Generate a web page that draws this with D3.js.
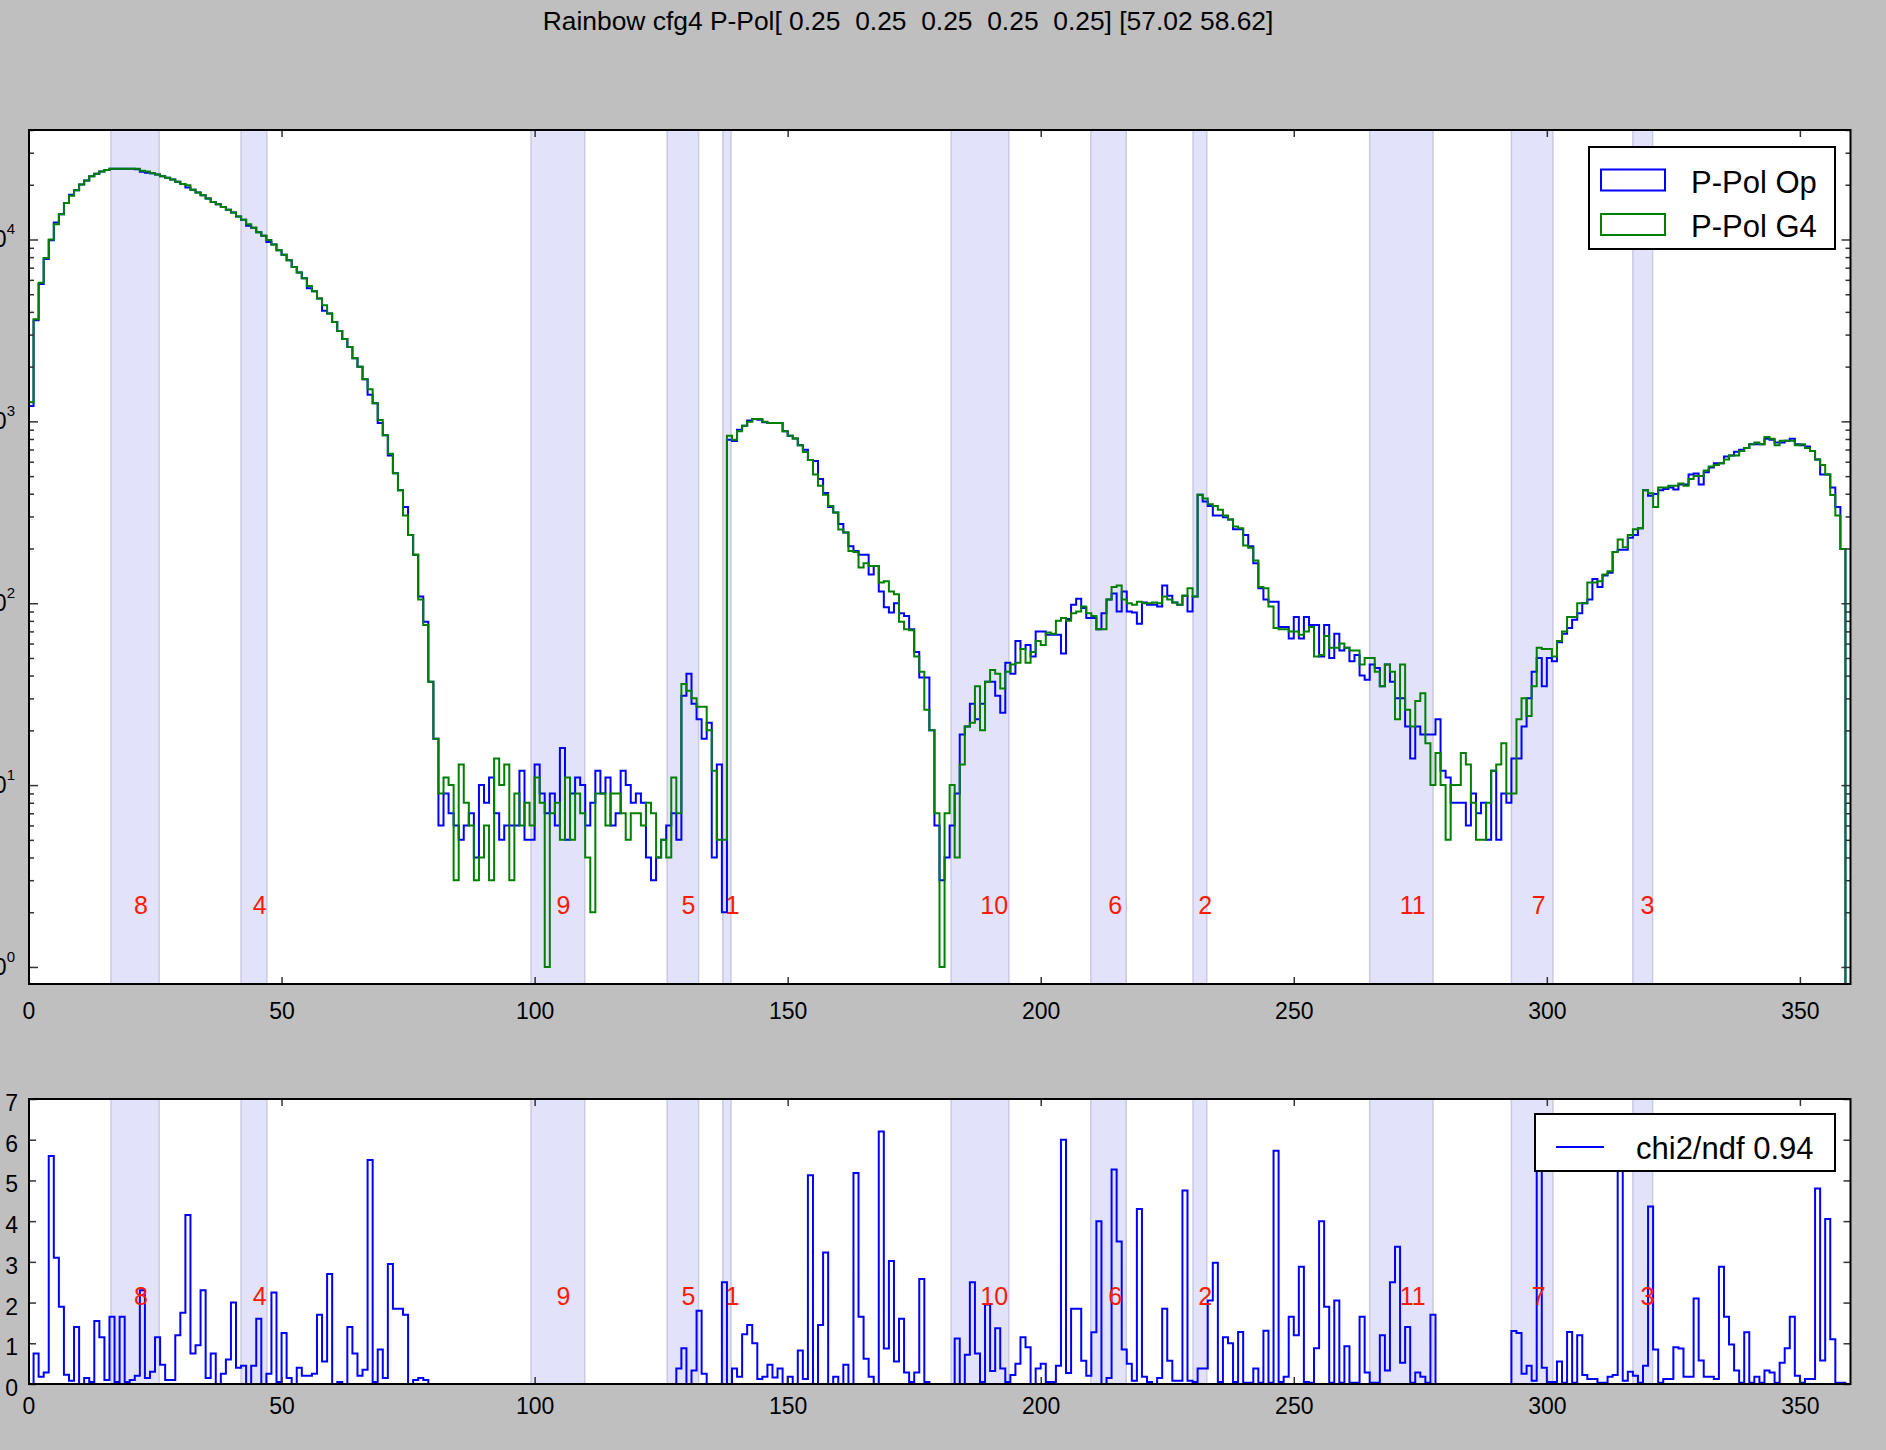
<!DOCTYPE html>
<html>
<head>
<meta charset="utf-8">
<script src="https://cdn.jsdelivr.net/npm/d3@7"></script>
<style>
  body { margin: 0; background: #bfbfbf; }
  svg { display: block; font-family: "Liberation Sans", Arial, sans-serif; }
</style>
</head>
<body>
<div id="chart"></div>
<script>
var title = "Rainbow cfg4 P-Pol[ 0.25  0.25  0.25  0.25  0.25] [57.02 58.62]";

// counts per 1 degree bin, 0..359
var opCounts = [
  1213, 3600, 5700, 7800, 9900, 12400, 13770, 15860, 17600, 18670,
  20050, 21090, 22300, 22960, 23620, 24120, 24460, 24460, 24460, 24460,
  24460, 24300, 23600, 23300, 23100, 22780, 22300, 21840, 21370, 20750,
  20170, 19340, 18780, 18140, 17510, 16780, 16070, 15620, 15080, 14570,
  14060, 13370, 12820, 11900, 11610, 10970, 10500, 9700, 9380, 8740,
  8250, 7690, 7060, 6580, 6130, 5400, 5200, 4740, 4060, 3920,
  3520, 3140, 2840, 2560, 2220, 1995, 1706, 1400, 1257, 980,
  839, 650, 518, 418, 338, 237, 185, 109, 79, 37,
  18, 6, 9, 7, 6, 5, 6, 7, 4, 10,
  8, 11, 7, 5, 6, 6, 6, 12, 5, 5,
  13, 9, 7, 9, 6, 16, 5, 9, 11, 10,
  6, 8, 12, 9, 11, 6, 7, 12, 10, 8,
  9, 8, 4, 3, 4, 5, 6, 7, 5, 31,
  41, 28, 23, 18, 22, 4, 13, 2, 793, 781,
  900, 946, 1010, 1031, 1020, 988, 980, 980, 980, 881,
  834, 804, 738, 698, 614, 605, 482, 404, 338, 315,
  273, 245, 206, 194, 185, 185, 144, 160, 116, 95,
  89, 100, 88, 85, 72, 54, 39, 39, 20, 6,
  3, 4, 6, 9, 19, 21, 28, 23, 28, 37,
  37, 31, 25, 47, 41, 62, 56, 59, 51, 70,
  70, 67, 67, 67, 53, 82, 98, 106, 94, 83,
  83, 72, 88, 105, 113, 90, 116, 90, 89, 77,
  101, 98, 98, 96, 125, 110, 101, 98, 110, 90,
  109, 395, 363, 343, 304, 304, 297, 289, 255, 255,
  237, 206, 166, 121, 105, 102, 102, 74, 74, 64,
  84, 64, 84, 76, 76, 51, 76, 50, 68, 55,
  57, 48, 52, 40, 38, 46, 44, 35, 46, 37,
  30, 30, 21, 14, 21, 19, 19, 19, 23, 12,
  11, 8, 8, 8, 6, 9, 7, 8, 5, 12,
  5, 9, 8, 14, 14, 21, 30, 42, 50, 35,
  50, 48, 61, 68, 73, 81, 88, 100, 105, 136,
  123, 142, 147, 191, 197, 197, 229, 237, 258, 418,
  390, 399, 418, 425, 433, 422, 449, 449, 511, 517,
  449, 525, 557, 588, 588, 640, 650, 680, 698, 713,
  749, 749, 749, 803, 793, 765, 765, 782, 803, 749,
  738, 728, 688, 618, 511, 511, 433, 338, 199, 0
];

var g4Counts = [
  1274, 3648, 5780, 7907, 10000, 12110, 13770, 15860, 17390, 18670,
  20050, 21090, 22300, 22960, 23620, 24120, 24460, 24460, 24460, 24460,
  24460, 24460, 23910, 23620, 23100, 22780, 22300, 21840, 21370, 20750,
  20170, 19880, 18780, 18140, 17510, 16780, 16070, 15620, 15080, 14570,
  14060, 13370, 12820, 12110, 11610, 10970, 10500, 9930, 9380, 8740,
  8250, 7690, 7060, 6580, 6130, 5550, 5200, 4740, 4350, 3920,
  3520, 3140, 2840, 2560, 2220, 1995, 1706, 1503, 1257, 1016,
  839, 664, 518, 418, 304, 237, 185, 105, 76, 37,
  18, 9, 11, 10, 3, 13, 8, 6, 3, 4,
  6, 3, 14, 10, 13, 3, 9, 6, 8, 6,
  11, 8, 1, 7, 8, 5, 11, 5, 9, 7,
  4, 2, 9, 9, 6, 9, 9, 7, 5, 7,
  7, 6, 8, 7, 4, 5, 4, 11, 7, 36,
  33, 30, 27, 27, 20, 12, 5, 5, 834, 793,
  881, 946, 995, 1031, 1031, 995, 980, 980, 980, 881,
  834, 804, 738, 678, 614, 511, 443, 395, 343, 315,
  254, 245, 194, 191, 157, 166, 160, 160, 130, 132,
  116, 112, 79, 72, 71, 51, 42, 26, 20, 7,
  1, 7, 10, 4, 13, 21, 22, 35, 20, 37,
  43, 41, 34, 42, 46, 47, 56, 47, 54, 62,
  59, 69, 68, 80, 83, 80, 88, 90, 96, 88,
  85, 72, 72, 105, 123, 125, 105, 100, 98, 102,
  100, 100, 101, 100, 109, 105, 101, 98, 110, 121,
  109, 395, 376, 350, 343, 327, 304, 289, 264, 258,
  208, 202, 172, 123, 121, 96, 73, 72, 72, 70,
  70, 67, 70, 74, 51, 52, 66, 57, 57, 60,
  57, 55, 55, 46, 50, 50, 42, 35, 46, 42,
  23, 46, 26, 21, 29, 32, 17, 10, 15, 10,
  5, 10, 10, 15, 13, 8, 5, 5, 8, 12,
  13, 17, 9, 9, 23, 30, 24, 35, 57, 56,
  56, 51, 62, 70, 84, 84, 100, 100, 130, 130,
  132, 144, 150, 191, 224, 203, 237, 255, 258, 418,
  403, 338, 433, 433, 443, 443, 455, 443, 482, 500,
  500, 536, 564, 575, 588, 618, 650, 650, 688, 713,
  749, 765, 749, 820, 803, 738, 782, 782, 782, 738,
  749, 713, 688, 618, 575, 511, 394, 304, 199, 0
];

var chi2 = [
  0, 0.75, 0.18, 0.28, 5.6, 3.1, 1.9, 0.23, 0.08, 1.4,
  0, 0.15, 0.05, 1.55, 1.15, 0.1, 1.65, 0.05, 1.65, 0.05,
  0.1, 0.2, 2.3, 0.15, 0.3, 1.15, 0.47, 0.1, 0.1, 1.2,
  1.75, 4.15, 0.75, 0.95, 2.3, 0.15, 0.75, 0, 0.25, 0.6,
  2.0, 0.4, 0.45, 0, 0.45, 1.6, 0, 0.25, 2.25, 0.05,
  1.25, 0.15, 0, 0.4, 0.2, 0.2, 0.25, 1.7, 0.55, 2.7,
  0, 0.05, 0, 1.4, 0.75, 0.2, 0.35, 5.5, 0.05, 0.85,
  0.15, 2.95, 1.85, 1.85, 1.7, 0, 0.1, 0.15, 0.1, 0,
  0, 0, 0, 0, 0, 0, 0, 0, 0, 0,
  0, 0, 0, 0, 0, 0, 0, 0, 0, 0,
  0, 0, 0, 0, 0, 0, 0, 0, 0, 0,
  0, 0, 0, 0, 0, 0, 0, 0, 0, 0,
  0, 0, 0, 0, 0, 0, 0, 0, 0.38, 0.88,
  0, 0.33, 1.8, 0.25, 0, 0, 0, 2.5, 0, 0.38,
  0.18, 1.22, 1.45, 1.0, 0.12, 0.18, 0.47, 0.16, 0.38, 0,
  0.18, 0, 0.82, 0.12, 5.13, 0, 1.45, 3.23, 0, 0.18,
  0, 0.47, 0, 5.18, 1.65, 0.62, 0.18, 0, 6.2, 0.87,
  3.02, 0.55, 1.6, 0.28, 0.05, 0.28, 2.58, 0.05, 0, 0,
  0, 0, 0, 1.12, 0, 0.72, 2.5, 0.75, 0.05, 1.95,
  0.32, 1.37, 0.38, 0.05, 0.22, 0.5, 1.15, 0.9, 0, 0.38,
  0.5, 0.05, 0.05, 0.45, 6.0, 0.27, 1.85, 1.85, 0.57, 0.2,
  1.27, 4.0, 0, 0.15, 5.27, 3.5, 0.85, 0.5, 0.08, 4.3,
  0.18, 0.05, 0, 0.15, 1.85, 0.57, 0.08, 0.08, 4.75, 0.08,
  0.05, 0.38, 0.38, 2.05, 2.98, 0.05, 1.15, 1.0, 0.05, 1.28,
  0.03, 0.03, 0.38, 0.03, 1.31, 0.03, 5.73, 0.05, 0.18, 1.65,
  1.2, 2.88, 0.05, 0.03, 0.88, 4.0, 1.9, 0.03, 2.05, 0.03,
  0.93, 0.03, 0.03, 1.65, 0.28, 0.03, 0.03, 1.2, 0.33, 2.5,
  3.37, 0.52, 1.4, 0.03, 0.28, 0.18, 0.03, 1.7, 0, 0,
  0, 0, 0, 0, 0, 0, 0, 0, 0, 0,
  0, 0, 0, 1.3, 1.25, 0.25, 0.45, 0.08, 6.5, 0.4,
  0.05, 0.05, 0.55, 0.03, 1.28, 0.03, 1.2, 0.22, 0.12, 0.12,
  0.03, 0.03, 0.18, 0.22, 6.6, 0.08, 0.3, 0.2, 0.03, 0.45,
  4.36, 0.85, 0.03, 0.12, 0.12, 0.9, 0.87, 0.18, 0.18, 2.1,
  0.58, 0.18, 0.18, 0.12, 2.88, 1.65, 0.97, 0.33, 0.03, 1.27,
  0.03, 0.18, 0.03, 0.33, 0.28, 0.03, 0.52, 0.88, 1.65, 0.2,
  0.03, 0.12, 0.12, 4.8, 0.58, 4.05, 1.1, 0.03, 0.03, 0
];

// shaded angular ranges and their labels
var bandNames = ["1", "2", "3", "4", "5", "6", "7", "8", "9", "10", "11"];
var bandLo = [137.2, 230.1, 317.0, 42.0, 126.2, 209.9, 293.0, 16.3, 99.3, 182.3, 265.0];
var bandHi = [138.8, 232.8, 320.9, 47.1, 132.4, 216.9, 301.2, 25.8, 109.9, 193.7, 277.5];
var bandLabelX = [139.1, 232.5, 319.9, 45.7, 130.4, 214.7, 298.4, 22.2, 105.7, 190.8, 273.5];
var bandLabelY = 1.95;

var xTicks = [0, 50, 100, 150, 200, 250, 300, 350];
var logMajors = [1, 10, 100, 1000, 10000];
var chiTicks = [0, 1, 2, 3, 4, 5, 6, 7];
var seriesNames = ["P-Pol Op", "P-Pol G4"];
var chiLabel = "chi2/ndf 0.94";

var W = 1886, H = 1450;
var font = '"Liberation Sans", Arial, sans-serif';

var svg = d3.select("#chart").append("svg")
  .attr("width", W)
  .attr("height", H);

svg.append("rect").attr("width", W).attr("height", H).attr("fill", "#bfbfbf");

svg.append("text")
  .attr("x", 908)
  .attr("y", 30)
  .attr("text-anchor", "middle")
  .style("font-size", "26.4px")
  .style("white-space", "pre")
  .text(title);

var x = d3.scaleLinear().domain([0, 360]).range([28.5, 1850.5]);

var pA = {y0: 130, y1: 984};
var pB = {y0: 1099, y1: 1384};

var yA = d3.scaleLog().domain([0.806, 40000]).range([pA.y1, pA.y0]);
var yB = d3.scaleLinear().domain([0, 7]).range([pB.y1, pB.y0]);

function panel(p, id) {
  var g = svg.append("g");
  g.append("rect")
    .attr("x", 29).attr("y", p.y0)
    .attr("width", 1850.5 - 29).attr("height", p.y1 - p.y0)
    .attr("fill", "white");
  svg.append("clipPath").attr("id", id)
    .append("rect")
    .attr("x", 29).attr("y", p.y0)
    .attr("width", 1850.5 - 29).attr("height", p.y1 - p.y0);
  g.selectAll(".band")
    .data(bandLo)
    .enter().append("rect")
    .attr("x", (d, i) => x(d))
    .attr("width", (d, i) => x(bandHi[i]) - x(d))
    .attr("y", p.y0)
    .attr("height", p.y1 - p.y0)
    .attr("fill", "#e2e2fb")
    .attr("stroke", "#c9c9e2")
    .attr("stroke-width", 1.5);
  return g;
}

function stepPath(g, vals, y, floor, color, clipId) {
  var pts = [[0, floor]];
  vals.forEach((v, i) => pts.push([i, Math.max(v, floor)]));
  pts.push([vals.length, floor]);
  var line = d3.line()
    .x(d => x(d[0]))
    .y(d => y(d[1]))
    .curve(d3.curveStepAfter);
  g.append("path")
    .attr("d", line(pts))
    .attr("fill", "none")
    .attr("stroke", color)
    .attr("stroke-width", 2)
    .attr("clip-path", "url(#" + clipId + ")");
}

function bandLabels(g, y) {
  g.selectAll(".blab")
    .data(bandNames)
    .enter().append("text")
    .attr("x", (d, i) => x(bandLabelX[i]))
    .attr("y", y(bandLabelY))
    .attr("text-anchor", "middle")
    .attr("fill", "#ff1a00")
    .style("font-size", "25px")
    .text(d => d);
}

function xAxes(g, p, pad) {
  g.append("g")
    .attr("transform", "translate(0," + p.y1 + ")")
    .call(d3.axisBottom(x).tickValues(xTicks).tickSize(-7).tickPadding(pad).tickFormat(d3.format("d")))
    .call(a => a.select(".domain").remove());
  g.append("g")
    .attr("transform", "translate(0," + p.y0 + ")")
    .call(d3.axisTop(x).tickValues(xTicks).tickSize(-7).tickFormat(""))
    .call(a => a.select(".domain").remove());
}

function styleAxes(g) {
  g.selectAll(".tick line").attr("stroke", "#333").attr("stroke-width", 1.5);
  g.selectAll(".tick text")
    .attr("fill", "black")
    .style("font-family", font)
    .style("font-size", "23px");
}

function frame(g, p) {
  g.append("rect")
    .attr("x", 29).attr("y", p.y0)
    .attr("width", 1850.5 - 29).attr("height", p.y1 - p.y0)
    .attr("fill", "none")
    .attr("stroke", "black")
    .attr("stroke-width", 2);
}

// ---- upper panel: log counts
var gA = panel(pA, "clipA");
stepPath(gA, opCounts, yA, 0.806, "#0000ff", "clipA");
stepPath(gA, g4Counts, yA, 0.806, "#008000", "clipA");
bandLabels(gA, yA);

var axA = svg.append("g");
xAxes(axA, pA, 19);
var minors = yA.ticks().filter(v => logMajors.indexOf(v) < 0 && v >= 1);
axA.append("g").attr("transform", "translate(29,0)")
  .call(d3.axisLeft(yA).tickValues(logMajors).tickSize(-9).tickFormat(""));
axA.append("g").attr("transform", "translate(29,0)")
  .call(d3.axisLeft(yA).tickValues(minors).tickSize(-5).tickFormat(""));
axA.append("g").attr("transform", "translate(1850.5,0)")
  .call(d3.axisRight(yA).tickValues(logMajors).tickSize(-9).tickFormat(""));
axA.append("g").attr("transform", "translate(1850.5,0)")
  .call(d3.axisRight(yA).tickValues(minors).tickSize(-5).tickFormat(""));
axA.selectAll(".domain").remove();
styleAxes(axA);

// power-of-ten labels sit partly past the left edge, as in the original
var powLab = axA.selectAll(".pow")
  .data(logMajors)
  .enter().append("text")
  .attr("x", 15)
  .attr("y", d => yA(d) + 8)
  .attr("text-anchor", "end")
  .style("font-size", "23px");
powLab.append("tspan").text("10");
powLab.append("tspan")
  .attr("dy", -13)
  .style("font-size", "15px")
  .text(d => Math.round(Math.log10(d)));
frame(axA, pA);

// legend upper
var legA = svg.append("g");
legA.append("rect")
  .attr("x", 1589).attr("y", 147).attr("width", 246).attr("height", 102)
  .attr("fill", "white").attr("stroke", "black").attr("stroke-width", 2);
[["#0000ff", 169.5, 193], ["#008000", 214, 237]].forEach((s, i) => {
  legA.append("rect")
    .attr("x", 1601).attr("y", s[1]).attr("width", 64).attr("height", 21)
    .attr("fill", "none").attr("stroke", s[0]).attr("stroke-width", 2);
  legA.append("text")
    .attr("x", 1691).attr("y", s[2])
    .style("font-size", "31px")
    .text(seriesNames[i]);
});

// ---- lower panel: chi2 per bin
var gB = panel(pB, "clipB");
stepPath(gB, chi2, yB, 0, "#0000ff", "clipB");
bandLabels(gB, yB);

var axB = svg.append("g");
xAxes(axB, pB, 18);
axB.append("g").attr("transform", "translate(29,0)")
  .call(d3.axisLeft(yB).tickValues(chiTicks).tickSize(-7).tickPadding(11).tickFormat(d3.format("d")));
axB.append("g").attr("transform", "translate(1850.5,0)")
  .call(d3.axisRight(yB).tickValues(chiTicks).tickSize(-7).tickFormat(""));
axB.selectAll(".domain").remove();
styleAxes(axB);
axB.selectAll(".tick text").attr("dy", "0.5em");
axB.selectAll(".tick text").filter(function () { return this.parentNode.getAttribute("transform").indexOf("translate(0,") === 0; }).attr("dy", "0.5em");
frame(axB, pB);

var legB = svg.append("g");
legB.append("rect")
  .attr("x", 1535).attr("y", 1114).attr("width", 300).attr("height", 57)
  .attr("fill", "white").attr("stroke", "black").attr("stroke-width", 2);
legB.append("line")
  .attr("x1", 1556).attr("x2", 1604).attr("y1", 1147).attr("y2", 1147)
  .attr("stroke", "#0000ff").attr("stroke-width", 2);
legB.append("text")
  .attr("x", 1636).attr("y", 1159)
  .style("font-size", "31px")
  .text(chiLabel);
</script>
</body>
</html>
